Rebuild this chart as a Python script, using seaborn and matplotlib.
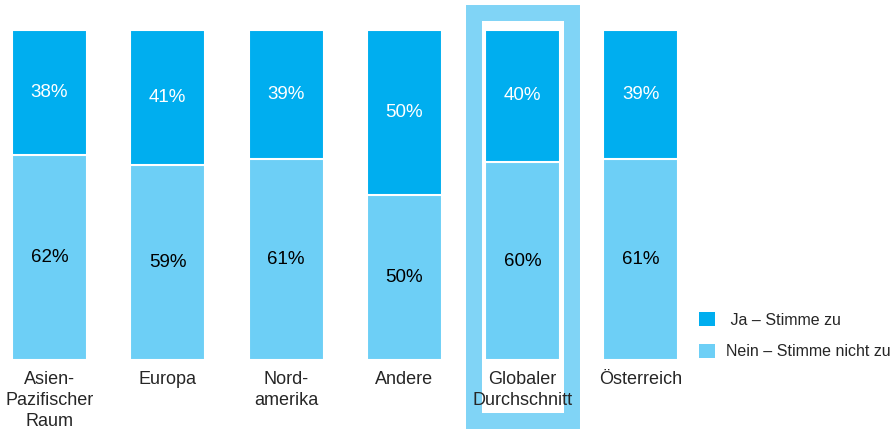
import matplotlib
matplotlib.use('Agg')
import matplotlib.pyplot as plt
import seaborn as sns
import numpy as np
from matplotlib.patches import Rectangle, Patch

# data
categories = ['Asien-\nPazifischer\nRaum', 'Europa', 'Nord-\namerika', 'Andere',
              'Globaler\nDurchschnitt', 'Österreich']
ja = [38, 41, 39, 50, 40, 39]
nein = [62, 59, 61, 50, 60, 61]
series_labels = [' Ja – Stimme zu', 'Nein – Stimme nicht zu']

col_ja = '#00AEEF'
col_nein = '#6DCFF6'
col_frame = '#80D4F6'

sns.set_style('white')
plt.rcParams['font.family'] = ['Liberation Sans', 'DejaVu Sans']

fig = plt.figure(figsize=(8.96, 4.33), dpi=100)
W, H = 896, 433
# axes placed so bars land where the reference has them
ax = fig.add_axes([2.2 / W, (H - 360) / H, (688.3 - 2.2) / W, 330 / H])

totals = [a + b for a, b in zip(ja, nein)]
x = np.arange(len(categories))

# full bar in "Ja" colour, then "Nein" on top from the bottom
sns.barplot(x=x, y=totals, color=col_ja, saturation=1, width=0.634,
            edgecolor='white', linewidth=1.5, ax=ax)
sns.barplot(x=x, y=nein, color=col_nein, saturation=1, width=0.634,
            edgecolor='white', linewidth=1.5, ax=ax)

ax.set_xlim(-0.4, 5.4)
ax.set_ylim(0, 100)

for i in range(len(categories)):
    ax.text(i, nein[i] + ja[i] / 2, f'{ja[i]}%', ha='center', va='center',
            color='white', fontsize=13.5)
    ax.text(i, nein[i] / 2, f'{nein[i]}%', ha='center', va='center',
            color='black', fontsize=13.5)

# highlight frame around the global average
frame = Rectangle((3.588, -18.48), 4.417 - 3.588, 105.15 + 18.48, fill=False,
                  edgecolor=col_frame, linewidth=11.5, clip_on=False, zorder=0)
ax.add_patch(frame)

ax.set_xticks(x)
ax.set_xticklabels(categories, fontsize=13, linespacing=1.3)
ax.tick_params(axis='x', length=0, pad=8)
ax.set_yticks([])
ax.set_xlabel('')
ax.set_ylabel('')
sns.despine(ax=ax, left=True, bottom=True)

handles = [Patch(facecolor=col_ja, edgecolor='none'),
           Patch(facecolor=col_nein, edgecolor='none')]
fig.legend(handles, series_labels, loc='upper left',
           bbox_to_anchor=(699 / W, 1 - 312 / H), frameon=False, fontsize=11.5,
           handlelength=1.0, handleheight=1.0, handletextpad=0.7,
           labelspacing=1.0, borderpad=0, borderaxespad=0)

fig.savefig('out.png', dpi=100)
